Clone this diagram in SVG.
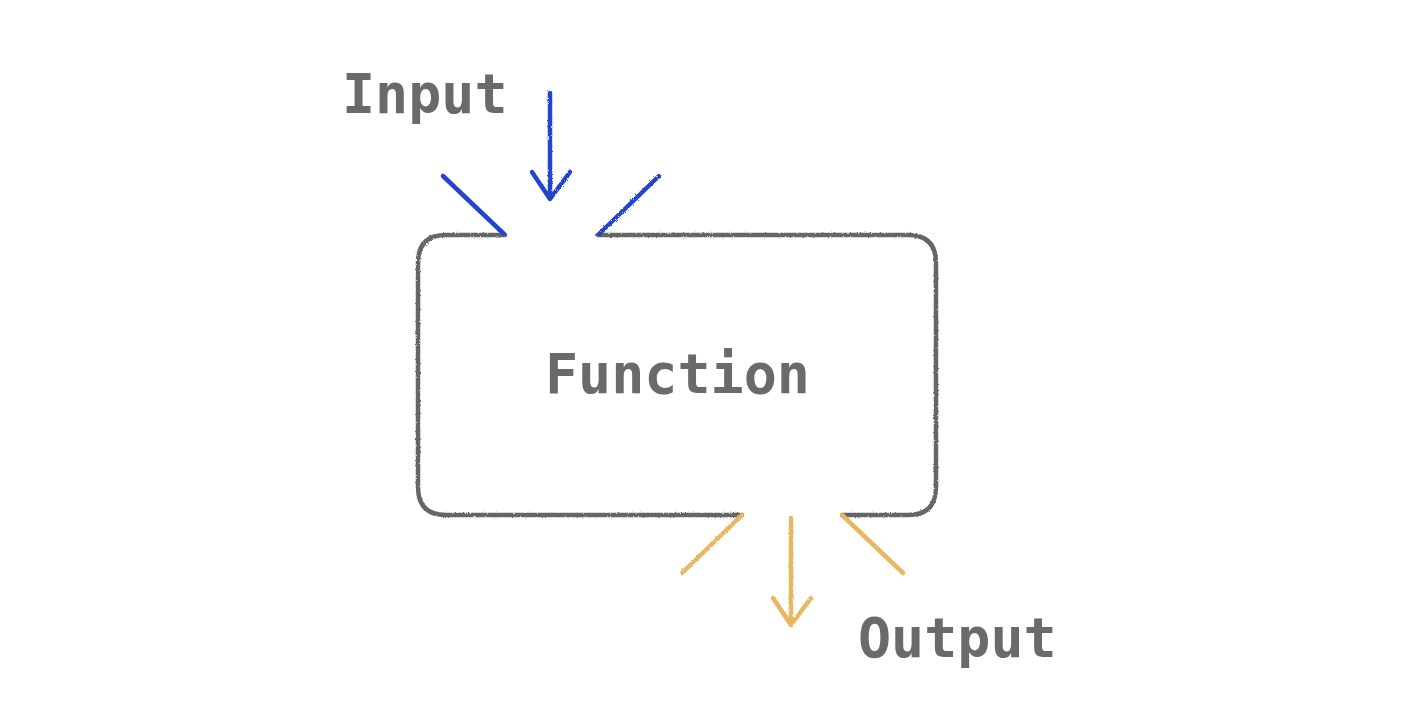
<svg xmlns="http://www.w3.org/2000/svg" width="1404" height="702" viewBox="0 0 1404 702">
<style>
.lbl{font-family:"DejaVu Sans Mono","Liberation Mono",monospace;font-weight:bold;font-size:55px;fill:#6a6a6a}
.box{fill:none;stroke:#666666;stroke-width:4.5;stroke-linecap:round}
.in{fill:none;stroke:#2244cc;stroke-width:4.5;stroke-linecap:round;stroke-linejoin:round}
.out{fill:none;stroke:#e8b860;stroke-width:4.5;stroke-linecap:round;stroke-linejoin:round}
</style>
<defs>
<filter id="rough" x="-5%" y="-5%" width="110%" height="110%">
<feTurbulence type="fractalNoise" baseFrequency="0.6" numOctaves="2" seed="3"/>
<feDisplacementMap in="SourceGraphic" scale="2.5"/>
</filter>
</defs>
<rect width="1404" height="702" fill="#ffffff"/>
<g id="function">
<path class="box" filter="url(#rough)" d="M505,235 H446 Q418,235 418,263 V487 Q418,515 446,515 H742 M842,515 H908 Q936,515 936,487 V263 Q936,235 908,235 H598"/>
<text class="lbl" x="545" y="393">Function</text>
</g>
<g id="input">
<text class="lbl" x="342" y="113">Input</text>
</g>
<g id="output">
<text class="lbl" x="858" y="657">Output</text>
</g>
<g id="connectors" filter="url(#rough)">
<path class="in" d="M550,93 V198 M532,172 L550,199 L570,172"/>
<path class="in" d="M443,176 L504,234"/>
<path class="in" d="M659,176 L599,234"/>
<path class="out" d="M742,515 L682,573"/>
<path class="out" d="M842,515 L903,573"/>
<path class="out" d="M791,518 V622 M773,598 L791,625 L811,598"/>
</g>
</svg>
